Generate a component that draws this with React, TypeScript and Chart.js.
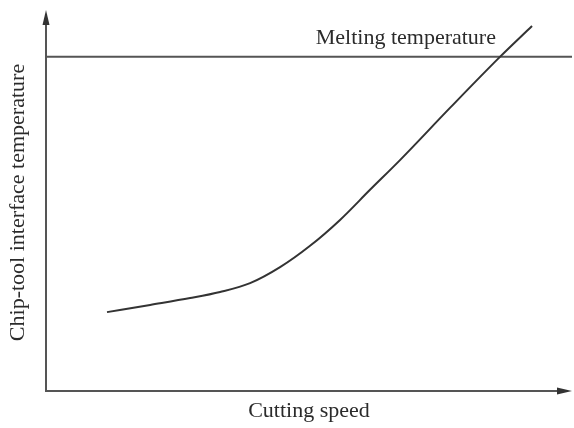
import React, { useEffect, useRef } from "react";
import { Chart, registerables } from "chart.js";

Chart.register(...registerables);

// Cutting speed (relative units, 0-100) and chip-tool interface temperature (relative units, 0-100)
const speedValues = [11.6, 19.8, 27.4, 33.1, 38.8, 44.5, 50.2, 55.9, 61.6, 67.3, 76.8, 86.3, 92.4];
const temperatureValues = [20.7, 22.6, 24.4, 26.0, 28.3, 32.5, 38.1, 44.9, 52.8, 60.6, 74.3, 87.7, 95.8];
const meltingTemperature = 87.7;
const meltingSpan = [0, 100];

const xTitle = "Cutting speed";
const yTitle = "Chip-tool interface temperature";
const meltingLabel = "Melting temperature";

const FONT = "22px 'Liberation Serif', 'Times New Roman', serif";
const TEXT_COLOR = "#2b2b2b";
const AXIS_COLOR = "#555555";

const axesPlugin = {
  id: "arrowAxes",
  beforeDatasetsDraw(chart: any) {
    const { ctx, chartArea } = chart;
    const { left, right, top, bottom } = chartArea;
    ctx.save();
    ctx.strokeStyle = AXIS_COLOR;
    ctx.fillStyle = "#333333";
    ctx.lineWidth = 2;
    // y axis
    ctx.beginPath();
    ctx.moveTo(left, bottom + 1);
    ctx.lineTo(left, top + 10);
    ctx.stroke();
    ctx.beginPath();
    ctx.moveTo(left, top);
    ctx.lineTo(left - 3.5, top + 15);
    ctx.lineTo(left + 3.5, top + 15);
    ctx.closePath();
    ctx.fill();
    // x axis
    ctx.beginPath();
    ctx.moveTo(left - 1, bottom);
    ctx.lineTo(right - 10, bottom);
    ctx.stroke();
    ctx.beginPath();
    ctx.moveTo(right, bottom);
    ctx.lineTo(right - 15, bottom - 3.5);
    ctx.lineTo(right - 15, bottom + 3.5);
    ctx.closePath();
    ctx.fill();
    ctx.restore();
  },
  afterDraw(chart: any) {
    const { ctx, chartArea, scales } = chart;
    const { left, right, top, bottom } = chartArea;
    ctx.save();
    ctx.font = FONT;
    ctx.fillStyle = TEXT_COLOR;
    ctx.textBaseline = "middle";
    // x title
    ctx.textAlign = "center";
    ctx.fillText(xTitle, (left + right) / 2, bottom + 20);
    // y title
    ctx.save();
    ctx.translate(left - 28, (top + bottom) / 2 + 2);
    ctx.rotate(-Math.PI / 2);
    ctx.fillText(yTitle, 0, 0);
    ctx.restore();
    // melting label
    const yMelt = scales.y.getPixelForValue(meltingTemperature);
    const xLab = scales.x.getPixelForValue(86.3);
    ctx.textAlign = "right";
    ctx.textBaseline = "alphabetic";
    ctx.fillText(meltingLabel, xLab - 4, yMelt - 13);
    ctx.restore();
  },
};

export default function App() {
  const canvasRef = useRef<HTMLCanvasElement | null>(null);

  useEffect(() => {
    const canvas = canvasRef.current;
    if (!canvas) return;
    const chart = new Chart(canvas, {
      type: "line",
      data: {
        datasets: [
          {
            label: "Interface temperature",
            data: speedValues.map((x, i) => ({ x, y: temperatureValues[i] })),
            borderColor: "#333333",
            borderWidth: 2,
            pointRadius: 0,
            cubicInterpolationMode: "monotone",
            fill: false,
          },
          {
            label: meltingLabel,
            data: meltingSpan.map((x) => ({ x, y: meltingTemperature })),
            borderColor: "#555555",
            borderWidth: 2,
            pointRadius: 0,
            fill: false,
          },
        ],
      },
      options: {
        responsive: false,
        animation: false,
        layout: { padding: { left: 46, right: 2, top: 10, bottom: 37 } },
        plugins: {
          legend: { display: false },
          tooltip: { enabled: false },
          title: { display: false },
        },
        scales: {
          x: { type: "linear", min: 0, max: 100, display: false },
          y: { type: "linear", min: 0, max: 100, display: false },
        },
      },
      plugins: [axesPlugin],
    });
    return () => chart.destroy();
  }, []);

  return (
    <div style={{ position: "fixed", left: 0, top: 0, width: 574, height: 428, background: "#ffffff" }}>
      <canvas ref={canvasRef} width={574} height={428} />
    </div>
  );
}
